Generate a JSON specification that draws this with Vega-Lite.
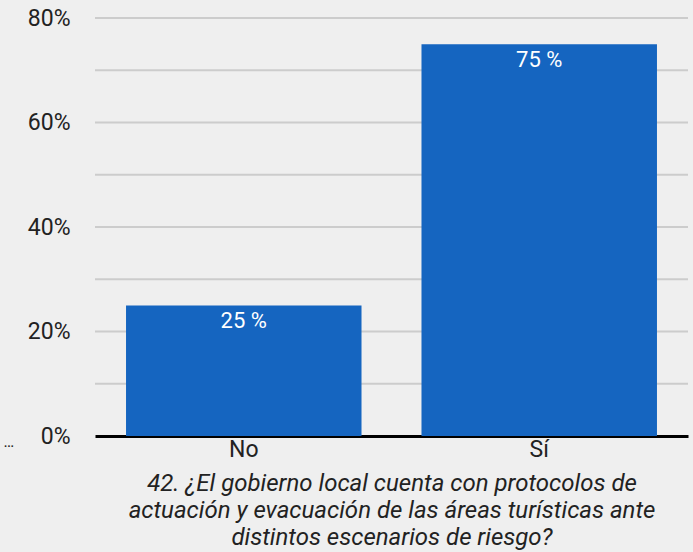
{
  "$schema": "https://vega.github.io/schema/vega-lite/v6.json",
  "width": 593,
  "height": 418,
  "autosize": {"type": "none"},
  "padding": {"left": 95, "top": 18, "right": 5, "bottom": 116},
  "background": "#efefef",
  "config": {
    "font": "Roboto",
    "view": {"stroke": null},
    "axis": {"labelFont": "Roboto", "titleFont": "Roboto"}
  },
  "data": {
    "values": [
      {"respuesta": "No", "valor": 0.25, "etiqueta": "25 %"},
      {"respuesta": "Sí", "valor": 0.75, "etiqueta": "75 %"}
    ]
  },
  "encoding": {
    "x": {
      "field": "respuesta",
      "type": "nominal",
      "sort": null,
      "scale": {"paddingInner": 0.203, "paddingOuter": 0.105},
      "axis": {
        "title": ["42. ¿El gobierno local cuenta con protocolos de", "actuación y evacuación de las áreas turísticas ante", "distintos escenarios de riesgo?"],
        "titleFontStyle": "italic",
        "titleFontWeight": "normal",
        "titleFontSize": 24,
        "titleColor": "#222222",
        "titleLineHeight": 27,
        "titlePadding": 10,
        "labelAngle": 0,
        "labelFontSize": 23,
        "labelColor": "#222222",
        "labelPadding": 2,
        "ticks": false,
        "domainColor": "#000000",
        "domainWidth": 3,
        "grid": false
      }
    },
    "y": {
      "field": "valor",
      "type": "quantitative",
      "scale": {"domain": [0, 0.8], "nice": false},
      "axis": {
        "title": "…",
        "titleAngle": 0,
        "titleX": -92,
        "titleY": 431,
        "titleFontSize": 16,
        "titleFontWeight": "normal",
        "titleColor": "#222222",
        "titleAlign": "left",
        "format": ".0%",
        "values": [0, 0.2, 0.4, 0.6, 0.8],
        "labelFontSize": 23,
        "labelColor": "#222222",
        "labelPadding": 25,
        "ticks": false,
        "domain": false,
        "grid": false
      }
    }
  },
  "layer": [
    {
      "data": {"values": [{"g": 0.1}, {"g": 0.2}, {"g": 0.3}, {"g": 0.4}, {"g": 0.5}, {"g": 0.6}, {"g": 0.7}, {"g": 0.8}]},
      "mark": {"type": "rule", "color": "#cccccc", "strokeWidth": 2},
      "encoding": {
        "y": {"field": "g", "type": "quantitative"},
        "x": null
      }
    },
    {
      "mark": {"type": "bar", "color": "#1565c0"}
    },
    {
      "mark": {"type": "text", "color": "#ffffff", "fontSize": 22, "baseline": "top", "dy": 6},
      "encoding": {"text": {"field": "etiqueta"}}
    }
  ]
}
